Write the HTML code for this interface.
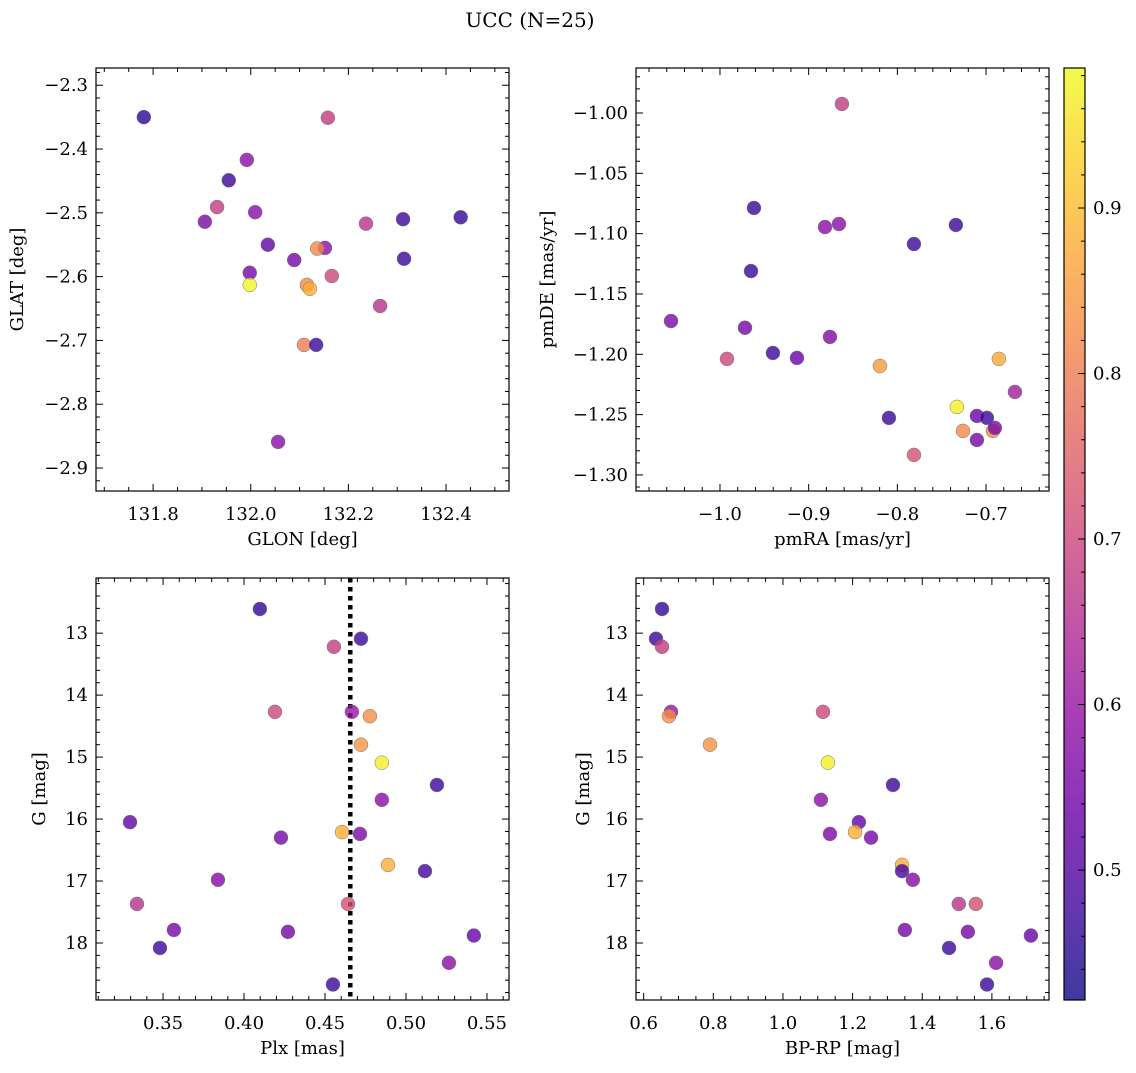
<!DOCTYPE html>
<html><head><meta charset="utf-8"><style>
body{margin:0;background:#fff;}
svg{font-family:"DejaVu Serif","Liberation Serif",serif;}
</style></head><body>
<svg id="fig" width="1136" height="1068" xmlns="http://www.w3.org/2000/svg">
<defs><linearGradient id="plasma" x1="0" y1="1" x2="0" y2="0"></linearGradient></defs>
<text x="530" y="27" font-size="20" text-anchor="middle">UCC (N=25)</text>
</svg>
<script>
// ---- data ----
const glon = [131.781,132.158,131.992,131.955,131.931,131.906,132.009,132.312,132.430,132.236,132.035,132.152,132.136,132.089,132.314,131.998,132.166,131.998,132.115,132.121,132.265,132.109,132.134,132.056];
const glat = [-2.350,-2.351,-2.417,-2.449,-2.491,-2.514,-2.499,-2.510,-2.507,-2.517,-2.550,-2.555,-2.556,-2.574,-2.572,-2.594,-2.599,-2.613,-2.613,-2.619,-2.646,-2.707,-2.707,-2.859];
const probTL = [0.45,0.68,0.58,0.47,0.68,0.56,0.58,0.47,0.46,0.66,0.52,0.58,0.82,0.55,0.47,0.55,0.70,0.98,0.82,0.88,0.66,0.80,0.47,0.58];
const pmra = [-0.8625,-0.9617,-0.8816,-0.8658,-0.7813,-0.734,-0.965,-1.0552,-0.9718,-0.876,-0.9403,-0.9132,-0.9921,-0.6855,-0.8196,-0.6674,-0.7329,-0.7103,-0.699,-0.8095,-0.726,-0.6922,-0.69,-0.7103,-0.7813];
const pmde = [-0.9925,-1.0787,-1.0945,-1.092,-1.1086,-1.0928,-1.131,-1.1724,-1.178,-1.1856,-1.1989,-1.203,-1.2038,-1.2038,-1.2097,-1.2312,-1.2436,-1.2511,-1.2527,-1.2527,-1.2635,-1.2635,-1.261,-1.271,-1.2834];
const probTR = [0.68,0.47,0.58,0.58,0.47,0.47,0.47,0.56,0.55,0.57,0.47,0.53,0.70,0.87,0.85,0.62,0.97,0.53,0.47,0.47,0.82,0.82,0.56,0.55,0.72];
const plx = [0.4098,0.4722,0.4555,0.4191,0.4666,0.4777,0.4722,0.4851,0.5191,0.4851,0.3296,0.4605,0.4716,0.4228,0.4889,0.5117,0.3839,0.3339,0.4642,0.3567,0.4271,0.5419,0.3481,0.5265,0.4549];
const gmagBL = [12.61,13.09,13.22,14.27,14.27,14.34,14.80,15.09,15.45,15.69,16.05,16.21,16.24,16.30,16.74,16.84,16.98,17.37,17.37,17.79,17.82,17.88,18.08,18.32,18.67];
const probBL = [0.46,0.47,0.68,0.70,0.60,0.83,0.84,0.97,0.47,0.58,0.52,0.88,0.56,0.55,0.88,0.48,0.57,0.66,0.72,0.55,0.55,0.53,0.47,0.58,0.47];
const plxMedian = 0.4656;
const bprp = [0.6527,0.6354,0.6527,1.115,0.6785,0.6728,0.7905,1.129,1.316,1.109,1.218,1.207,1.135,1.253,1.342,1.342,1.373,1.505,1.554,1.350,1.531,1.712,1.477,1.612,1.586];
const gmagBR = [12.61,13.09,13.22,14.27,14.27,14.34,14.80,15.09,15.45,15.69,16.05,16.21,16.24,16.30,16.74,16.84,16.98,17.37,17.37,17.79,17.82,17.88,18.08,18.32,18.67];
const probBR = [0.46,0.47,0.68,0.70,0.60,0.83,0.84,0.97,0.47,0.58,0.52,0.88,0.56,0.55,0.88,0.48,0.57,0.66,0.72,0.55,0.55,0.53,0.47,0.58,0.47];
const cbTicks = [0.5,0.6,0.7,0.8,0.9];

const NS="http://www.w3.org/2000/svg";
const svg=document.getElementById('fig');
const FS=18;
function el(tag,attrs,parent){const e=document.createElementNS(NS,tag);for(const k in attrs)e.setAttribute(k,attrs[k]);(parent||svg).appendChild(e);return e;}
const stops=['#0d0887','#41049d','#6a00a8','#8f0da4','#b12a90','#cc4778','#e16462','#f2844b','#fca636','#fcce25','#f0f921'];
function hex(h){return [1,3,5].map(i=>parseInt(h.substr(i,2),16));}
const CMIN=0.4215,CMAX=0.9846;
function cmap(v){let t=(v-CMIN)/(CMAX-CMIN);t=Math.max(0,Math.min(1,t))*10;const i=Math.min(9,Math.floor(t));const f=t-i;const a=hex(stops[i]),b=hex(stops[i+1]);return 'rgb('+a.map((c,k)=>Math.round(c+(b[k]-c)*f)).join(',')+')';}
function fmt(v,d){const s=v.toFixed(d);return s.replace('-','\u2212');}

function panel(o){
  const g=el('g',{});
  
  
  const X=v=>o.x0+(v-o.xmin)/(o.xmax-o.xmin)*(o.x1-o.x0);
  const Y=o.yinv?(v=>o.y0+(v-o.ymin)/(o.ymax-o.ymin)*(o.y1-o.y0)):(v=>o.y1-(v-o.ymin)/(o.ymax-o.ymin)*(o.y1-o.y0));
  const eps=1e-9;
  for(let v=Math.ceil(o.xmin/o.xmn-eps)*o.xmn; v<=o.xmax+eps; v+=o.xmn){
    const isMaj=Math.abs(v/o.xmj-Math.round(v/o.xmj))<1e-6; const L=isMaj?7:4; const x=X(v);
    el('line',{x1:x,x2:x,y1:o.y1,y2:o.y1-L,stroke:'#000','stroke-width':1},g);
    el('line',{x1:x,x2:x,y1:o.y0,y2:o.y0+L,stroke:'#000','stroke-width':1},g);
    if(isMaj){const t=el('text',{x:x,y:o.y1+29,'font-size':FS,'text-anchor':'middle'},g);t.textContent=fmt(v,o.xd);}
  }
  for(let v=Math.ceil(o.ymin/o.ymn-eps)*o.ymn; v<=o.ymax+eps; v+=o.ymn){
    const isMaj=Math.abs(v/o.ymj-Math.round(v/o.ymj))<1e-6; const L=isMaj?7:4; const y=Y(v);
    el('line',{x1:o.x0,x2:o.x0+L,y1:y,y2:y,stroke:'#000','stroke-width':1},g);
    el('line',{x1:o.x1,x2:o.x1-L,y1:y,y2:y,stroke:'#000','stroke-width':1},g);
    if(isMaj){const t=el('text',{x:o.x0-8,y:y+6,'font-size':FS,'text-anchor':'end'},g);t.textContent=fmt(v,o.yd);}
  }
  if(o.vline!==undefined){
    const l=el('line',{x1:X(o.vline),x2:X(o.vline),y1:o.y0,y2:o.y1,stroke:'#000','stroke-width':4.5,'stroke-dasharray':'4.5,4.5'},g);
    
    
  }
  for(let i=0;i<o.xs.length;i++){
    const c=el('circle',{cx:X(o.xs[i]),cy:Y(o.ys[i]),r:7,fill:cmap(o.cs[i]),'fill-opacity':0.8,stroke:'#777','stroke-width':0.5},g);
    
    
  }
  const fr=el('rect',{x:o.x0,y:o.y0,width:o.x1-o.x0,height:o.y1-o.y0,fill:'none',stroke:'#000','stroke-width':1.2},g);
  
  
  const xl=el('text',{x:(o.x0+o.x1)/2,y:o.y1+54,'font-size':FS,'text-anchor':'middle'},g);xl.textContent=o.xlab;
  
  
  const yl=el('text',{x:0,y:0,'font-size':FS,'text-anchor':'middle',transform:'translate('+o.ylx+','+((o.y0+o.y1)/2)+') rotate(-90)'},g);yl.textContent=o.ylab;
  
  
}
panel({name:'glon-glat-panel',x0:96,x1:509,y0:68,y1:491,xmin:131.683,xmax:132.529,ymin:-2.936,ymax:-2.273,xmj:0.2,xmn:0.05,ymj:0.1,ymn:0.02,xd:1,yd:1,xs:glon,ys:glat,cs:probTL,xlab:'GLON [deg]',ylab:'GLAT [deg]',ylx:23});
panel({name:'pm-panel',x0:636,x1:1049,y0:68,y1:491,xmin:-1.0947,xmax:-0.629,ymin:-1.3133,ymax:-0.9627,xmj:0.1,xmn:0.02,ymj:0.05,ymn:0.01,xd:1,yd:2,xs:pmra,ys:pmde,cs:probTR,xlab:'pmRA [mas/yr]',ylab:'pmDE [mas/yr]',ylx:553});
panel({name:'plx-g-panel',x0:96,x1:509,y0:578,y1:1000,xmin:0.3086,xmax:0.5636,ymin:12.11,ymax:18.92,yinv:true,xmj:0.05,xmn:0.01,ymj:1,ymn:0.2,xd:2,yd:0,xs:plx,ys:gmagBL,cs:probBL,vline:plxMedian,xlab:'Plx [mas]',ylab:'G [mag]',ylx:45});
panel({name:'cmd-panel',x0:636,x1:1049,y0:578,y1:1000,xmin:0.578,xmax:1.764,ymin:12.11,ymax:18.92,yinv:true,xmj:0.2,xmn:0.05,ymj:1,ymn:0.2,xd:1,yd:0,xs:bprp,ys:gmagBR,cs:probBR,xlab:'BP-RP [mag]',ylab:'G [mag]',ylx:589});

// colorbar
const grad=document.getElementById('plasma');
stops.forEach((s,i)=>{el('stop',{offset:(i/10),'stop-color':s,'stop-opacity':0.8},grad);});
const cb=el('g',{});


const cx0=1064,cx1=1085,cy0=68,cy1=1000;
el('rect',{x:cx0,y:cy0,width:cx1-cx0,height:cy1-cy0,fill:'url(#plasma)'},cb);
const CY=v=>cy1-(v-CMIN)/(CMAX-CMIN)*(cy1-cy0);
for(let v=0.44;v<=0.98+1e-9;v+=0.02){const y=CY(v);const maj=Math.abs(v*10-Math.round(v*10))<1e-6;
  el('line',{x1:cx1,x2:cx1-(maj?7:4),y1:y,y2:y,stroke:'#000','stroke-width':1},cb);}
cbTicks.forEach(v=>{const t=el('text',{x:cx1+8,y:CY(v)+6,'font-size':FS},cb);t.textContent=v.toFixed(1);
  
  });
el('rect',{x:cx0,y:cy0,width:cx1-cx0,height:cy1-cy0,fill:'none',stroke:'#000','stroke-width':1.2},cb);
</script>
</body></html>
